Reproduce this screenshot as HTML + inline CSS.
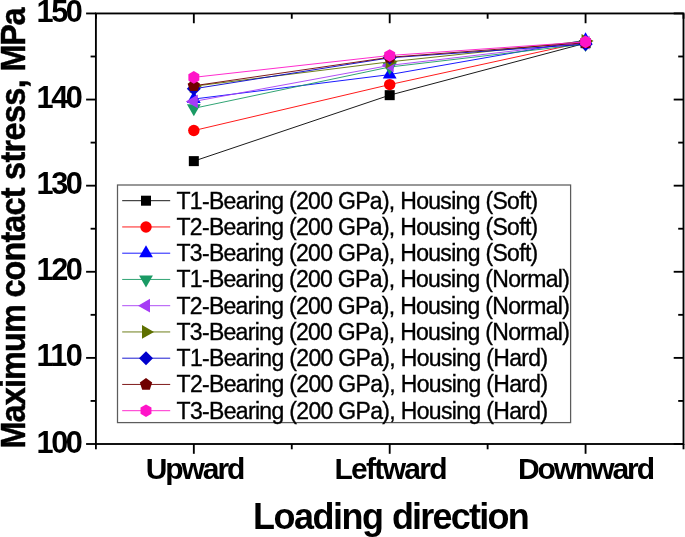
<!DOCTYPE html>
<html><head><meta charset="utf-8"><title>Maximum contact stress vs loading direction</title>
<style>html,body{margin:0;padding:0;background:#fff}svg{display:block}</style></head>
<body>
<svg width="685" height="537" viewBox="0 0 685 537">
<rect width="685" height="537" fill="#fff"/>
<polyline points="193.83,161.13 389.70,95.17 585.57,43.16" fill="none" stroke="#000000" stroke-width="0.9"/>
<rect x="188.83" y="156.13" width="10.00" height="10.00" fill="#000000"/>
<rect x="384.70" y="90.17" width="10.00" height="10.00" fill="#000000"/>
<rect x="580.57" y="38.16" width="10.00" height="10.00" fill="#000000"/>
<polyline points="193.83,130.56 389.70,84.58 585.57,41.87" fill="none" stroke="#ff0000" stroke-width="0.9"/>
<circle cx="193.83" cy="130.56" r="5.7" fill="#ff0000"/>
<circle cx="389.70" cy="84.58" r="5.7" fill="#ff0000"/>
<circle cx="585.57" cy="41.87" r="5.7" fill="#ff0000"/>
<polyline points="193.83,99.04 389.70,74.59 585.57,40.14" fill="none" stroke="#0000ff" stroke-width="0.9"/>
<polygon points="193.83,91.04 186.93,103.04 200.73,103.04" fill="#0000ff"/>
<polygon points="389.70,66.59 382.80,78.59 396.60,78.59" fill="#0000ff"/>
<polygon points="585.57,32.14 578.67,44.14 592.47,44.14" fill="#0000ff"/>
<polyline points="193.83,108.34 389.70,67.01 585.57,44.02" fill="none" stroke="#1a9a64" stroke-width="0.9"/>
<polygon points="193.83,116.34 186.93,104.34 200.73,104.34" fill="#1a9a64"/>
<polygon points="389.70,75.01 382.80,63.01 396.60,63.01" fill="#1a9a64"/>
<polygon points="585.57,52.02 578.67,40.02 592.47,40.02" fill="#1a9a64"/>
<polyline points="193.83,101.45 389.70,65.37 585.57,42.56" fill="none" stroke="#a63cf5" stroke-width="0.9"/>
<polygon points="185.83,101.45 197.83,94.55 197.83,108.35" fill="#a63cf5"/>
<polygon points="381.70,65.37 393.70,58.47 393.70,72.27" fill="#a63cf5"/>
<polygon points="577.57,42.56 589.57,35.66 589.57,49.46" fill="#a63cf5"/>
<polyline points="193.83,86.21 389.70,61.84 585.57,41.01" fill="none" stroke="#5e7000" stroke-width="0.9"/>
<polygon points="201.83,86.21 189.83,79.31 189.83,93.11" fill="#5e7000"/>
<polygon points="397.70,61.84 385.70,54.94 385.70,68.74" fill="#5e7000"/>
<polygon points="593.57,41.01 581.57,34.11 581.57,47.91" fill="#5e7000"/>
<polyline points="193.83,88.80 389.70,57.80 585.57,44.19" fill="none" stroke="#0000cc" stroke-width="0.9"/>
<polygon points="193.83,81.80 200.83,88.80 193.83,95.80 186.83,88.80" fill="#0000cc"/>
<polygon points="389.70,50.80 396.70,57.80 389.70,64.80 382.70,57.80" fill="#0000cc"/>
<polygon points="585.57,37.19 592.57,44.19 585.57,51.19 578.57,44.19" fill="#0000cc"/>
<polyline points="193.83,85.78 389.70,57.28 585.57,42.73" fill="none" stroke="#700000" stroke-width="0.9"/>
<polygon points="193.83,79.28 200.01,83.77 197.65,91.04 190.01,91.04 187.65,83.77" fill="#700000"/>
<polygon points="389.70,50.78 395.88,55.27 393.52,62.54 385.88,62.54 383.52,55.27" fill="#700000"/>
<polygon points="585.57,36.23 591.75,40.72 589.39,47.99 581.75,47.99 579.39,40.72" fill="#700000"/>
<polyline points="193.83,77.34 389.70,55.47 585.57,41.87" fill="none" stroke="#ff14c8" stroke-width="0.9"/>
<polygon points="193.83,71.04 199.29,74.19 199.29,80.49 193.83,83.64 188.37,80.49 188.37,74.19" fill="#ff14c8"/>
<polygon points="389.70,49.17 395.16,52.32 395.16,58.62 389.70,61.77 384.24,58.62 384.24,52.32" fill="#ff14c8"/>
<polygon points="585.57,35.57 591.03,38.72 591.03,45.02 585.57,48.17 580.11,45.02 580.11,38.72" fill="#ff14c8"/>
<g stroke="#000" stroke-width="1.85" fill="none" stroke-linecap="butt">
<rect x="95.90" y="13.45" width="587.60" height="430.55"/>
<line x1="86.10" y1="444.00" x2="95.90" y2="444.00"/>
<line x1="673.70" y1="444.00" x2="683.50" y2="444.00"/>
<line x1="90.60" y1="400.94" x2="95.90" y2="400.94"/>
<line x1="678.20" y1="400.94" x2="683.50" y2="400.94"/>
<line x1="86.10" y1="357.89" x2="95.90" y2="357.89"/>
<line x1="673.70" y1="357.89" x2="683.50" y2="357.89"/>
<line x1="90.60" y1="314.83" x2="95.90" y2="314.83"/>
<line x1="678.20" y1="314.83" x2="683.50" y2="314.83"/>
<line x1="86.10" y1="271.78" x2="95.90" y2="271.78"/>
<line x1="673.70" y1="271.78" x2="683.50" y2="271.78"/>
<line x1="90.60" y1="228.72" x2="95.90" y2="228.72"/>
<line x1="678.20" y1="228.72" x2="683.50" y2="228.72"/>
<line x1="86.10" y1="185.67" x2="95.90" y2="185.67"/>
<line x1="673.70" y1="185.67" x2="683.50" y2="185.67"/>
<line x1="90.60" y1="142.61" x2="95.90" y2="142.61"/>
<line x1="678.20" y1="142.61" x2="683.50" y2="142.61"/>
<line x1="86.10" y1="99.56" x2="95.90" y2="99.56"/>
<line x1="673.70" y1="99.56" x2="683.50" y2="99.56"/>
<line x1="90.60" y1="56.50" x2="95.90" y2="56.50"/>
<line x1="678.20" y1="56.50" x2="683.50" y2="56.50"/>
<line x1="86.10" y1="13.45" x2="95.90" y2="13.45"/>
<line x1="673.70" y1="13.45" x2="683.50" y2="13.45"/>
<line x1="95.90" y1="444.00" x2="95.90" y2="449.30"/>
<line x1="95.90" y1="13.45" x2="95.90" y2="18.75"/>
<line x1="193.83" y1="444.00" x2="193.83" y2="453.80"/>
<line x1="193.83" y1="13.45" x2="193.83" y2="23.25"/>
<line x1="291.77" y1="444.00" x2="291.77" y2="449.30"/>
<line x1="291.77" y1="13.45" x2="291.77" y2="18.75"/>
<line x1="389.70" y1="444.00" x2="389.70" y2="453.80"/>
<line x1="389.70" y1="13.45" x2="389.70" y2="23.25"/>
<line x1="487.63" y1="444.00" x2="487.63" y2="449.30"/>
<line x1="487.63" y1="13.45" x2="487.63" y2="18.75"/>
<line x1="585.57" y1="444.00" x2="585.57" y2="453.80"/>
<line x1="585.57" y1="13.45" x2="585.57" y2="23.25"/>
<line x1="683.50" y1="444.00" x2="683.50" y2="449.30"/>
<line x1="683.50" y1="13.45" x2="683.50" y2="18.75"/>
</g>
<rect x="117.50" y="185.00" width="453.10" height="237.60" fill="#fff" stroke="#5c5c5c" stroke-width="1.25"/>
<line x1="122.2" y1="200.70" x2="170.2" y2="200.70" stroke="#000000" stroke-width="0.9"/>
<rect x="141.00" y="195.70" width="10.00" height="10.00" fill="#000000"/>
<line x1="122.2" y1="226.95" x2="170.2" y2="226.95" stroke="#ff0000" stroke-width="0.9"/>
<circle cx="146.00" cy="226.95" r="5.7" fill="#ff0000"/>
<line x1="122.2" y1="253.20" x2="170.2" y2="253.20" stroke="#0000ff" stroke-width="0.9"/>
<polygon points="146.00,245.20 139.10,257.20 152.90,257.20" fill="#0000ff"/>
<line x1="122.2" y1="279.45" x2="170.2" y2="279.45" stroke="#1a9a64" stroke-width="0.9"/>
<polygon points="146.00,287.45 139.10,275.45 152.90,275.45" fill="#1a9a64"/>
<line x1="122.2" y1="305.70" x2="170.2" y2="305.70" stroke="#a63cf5" stroke-width="0.9"/>
<polygon points="138.00,305.70 150.00,298.80 150.00,312.60" fill="#a63cf5"/>
<line x1="122.2" y1="331.95" x2="170.2" y2="331.95" stroke="#5e7000" stroke-width="0.9"/>
<polygon points="154.00,331.95 142.00,325.05 142.00,338.85" fill="#5e7000"/>
<line x1="122.2" y1="358.20" x2="170.2" y2="358.20" stroke="#0000cc" stroke-width="0.9"/>
<polygon points="146.00,351.20 153.00,358.20 146.00,365.20 139.00,358.20" fill="#0000cc"/>
<line x1="122.2" y1="384.45" x2="170.2" y2="384.45" stroke="#700000" stroke-width="0.9"/>
<polygon points="146.00,377.95 152.18,382.44 149.82,389.71 142.18,389.71 139.82,382.44" fill="#700000"/>
<line x1="122.2" y1="410.70" x2="170.2" y2="410.70" stroke="#ff14c8" stroke-width="0.9"/>
<polygon points="146.00,404.40 151.46,407.55 151.46,413.85 146.00,417.00 140.54,413.85 140.54,407.55" fill="#ff14c8"/>
<text transform="translate(36.48,452.50) scale(1.000,1.045)" font-family="'Liberation Sans', sans-serif" font-size="30.70px" font-weight="bold" letter-spacing="-2.379px" fill="#000">100</text>
<text transform="translate(36.48,366.39) scale(1.000,1.045)" font-family="'Liberation Sans', sans-serif" font-size="30.70px" font-weight="bold" letter-spacing="-1.532px" fill="#000">110</text>
<text transform="translate(36.48,280.28) scale(1.000,1.045)" font-family="'Liberation Sans', sans-serif" font-size="30.70px" font-weight="bold" letter-spacing="-2.379px" fill="#000">120</text>
<text transform="translate(36.48,194.17) scale(1.000,1.045)" font-family="'Liberation Sans', sans-serif" font-size="30.70px" font-weight="bold" letter-spacing="-2.379px" fill="#000">130</text>
<text transform="translate(36.48,108.06) scale(1.000,1.045)" font-family="'Liberation Sans', sans-serif" font-size="30.70px" font-weight="bold" letter-spacing="-2.379px" fill="#000">140</text>
<text transform="translate(36.48,21.95) scale(1.000,1.045)" font-family="'Liberation Sans', sans-serif" font-size="30.70px" font-weight="bold" letter-spacing="-2.379px" fill="#000">150</text>
<text transform="translate(145.69,479.20) scale(1.000,0.995)" font-family="'Liberation Sans', sans-serif" font-size="30.00px" font-weight="bold" letter-spacing="-2.057px" fill="#000">Upward</text>
<text transform="translate(334.43,479.20) scale(1.000,0.995)" font-family="'Liberation Sans', sans-serif" font-size="30.00px" font-weight="bold" letter-spacing="-1.688px" fill="#000">Leftward</text>
<text transform="translate(517.92,479.20) scale(1.000,0.995)" font-family="'Liberation Sans', sans-serif" font-size="30.00px" font-weight="bold" letter-spacing="-2.068px" fill="#000">Downward</text>
<text transform="translate(253.05,528.80) scale(1.000,1.005)" font-family="'Liberation Sans', sans-serif" font-size="36.00px" font-weight="bold" letter-spacing="-1.487px" fill="#000">Loading</text>
<text transform="translate(391.88,528.80) scale(1.000,1.005)" font-family="'Liberation Sans', sans-serif" font-size="36.00px" font-weight="bold" letter-spacing="-1.769px" fill="#000">direction</text>
<text transform="translate(25.00,448.62) rotate(-90) scale(0.900,0.950)" font-family="'Liberation Sans', sans-serif" font-size="36.00px" font-weight="bold" letter-spacing="-0.914px" fill="#000" stroke="#000" stroke-width="0.5">Maximum</text>
<text transform="translate(25.00,297.61) rotate(-90) scale(0.900,0.950)" font-family="'Liberation Sans', sans-serif" font-size="36.00px" font-weight="bold" letter-spacing="-0.953px" fill="#000" stroke="#000" stroke-width="0.5">contact</text>
<text transform="translate(25.00,179.91) rotate(-90) scale(0.900,0.950)" font-family="'Liberation Sans', sans-serif" font-size="36.00px" font-weight="bold" letter-spacing="-0.713px" fill="#000" stroke="#000" stroke-width="0.5">stress,</text>
<text transform="translate(25.00,71.53) rotate(-90) scale(0.900,0.950)" font-family="'Liberation Sans', sans-serif" font-size="36.00px" font-weight="bold" letter-spacing="-1.389px" fill="#000" stroke="#000" stroke-width="0.5">MPa</text>
<text transform="translate(176.50,208.50) scale(1.000,1.030)" font-family="'Liberation Sans', sans-serif" font-size="23.00px" letter-spacing="-0.686px" fill="#000" stroke="#000" stroke-width="0.35">T1-Bearing (200 GPa), Housing (Soft)</text>
<text transform="translate(176.50,234.75) scale(1.000,1.030)" font-family="'Liberation Sans', sans-serif" font-size="23.00px" letter-spacing="-0.686px" fill="#000" stroke="#000" stroke-width="0.35">T2-Bearing (200 GPa), Housing (Soft)</text>
<text transform="translate(176.50,261.00) scale(1.000,1.030)" font-family="'Liberation Sans', sans-serif" font-size="23.00px" letter-spacing="-0.686px" fill="#000" stroke="#000" stroke-width="0.35">T3-Bearing (200 GPa), Housing (Soft)</text>
<text transform="translate(176.50,287.25) scale(1.000,1.030)" font-family="'Liberation Sans', sans-serif" font-size="23.00px" letter-spacing="-0.692px" fill="#000" stroke="#000" stroke-width="0.35">T1-Bearing (200 GPa), Housing (Normal)</text>
<text transform="translate(176.50,313.50) scale(1.000,1.030)" font-family="'Liberation Sans', sans-serif" font-size="23.00px" letter-spacing="-0.692px" fill="#000" stroke="#000" stroke-width="0.35">T2-Bearing (200 GPa), Housing (Normal)</text>
<text transform="translate(176.50,339.75) scale(1.000,1.030)" font-family="'Liberation Sans', sans-serif" font-size="23.00px" letter-spacing="-0.692px" fill="#000" stroke="#000" stroke-width="0.35">T3-Bearing (200 GPa), Housing (Normal)</text>
<text transform="translate(176.50,366.00) scale(1.000,1.030)" font-family="'Liberation Sans', sans-serif" font-size="23.00px" letter-spacing="-0.661px" fill="#000" stroke="#000" stroke-width="0.35">T1-Bearing (200 GPa), Housing (Hard)</text>
<text transform="translate(176.50,392.25) scale(1.000,1.030)" font-family="'Liberation Sans', sans-serif" font-size="23.00px" letter-spacing="-0.661px" fill="#000" stroke="#000" stroke-width="0.35">T2-Bearing (200 GPa), Housing (Hard)</text>
<text transform="translate(176.50,418.50) scale(1.000,1.030)" font-family="'Liberation Sans', sans-serif" font-size="23.00px" letter-spacing="-0.661px" fill="#000" stroke="#000" stroke-width="0.35">T3-Bearing (200 GPa), Housing (Hard)</text>
</svg>
</body></html>
